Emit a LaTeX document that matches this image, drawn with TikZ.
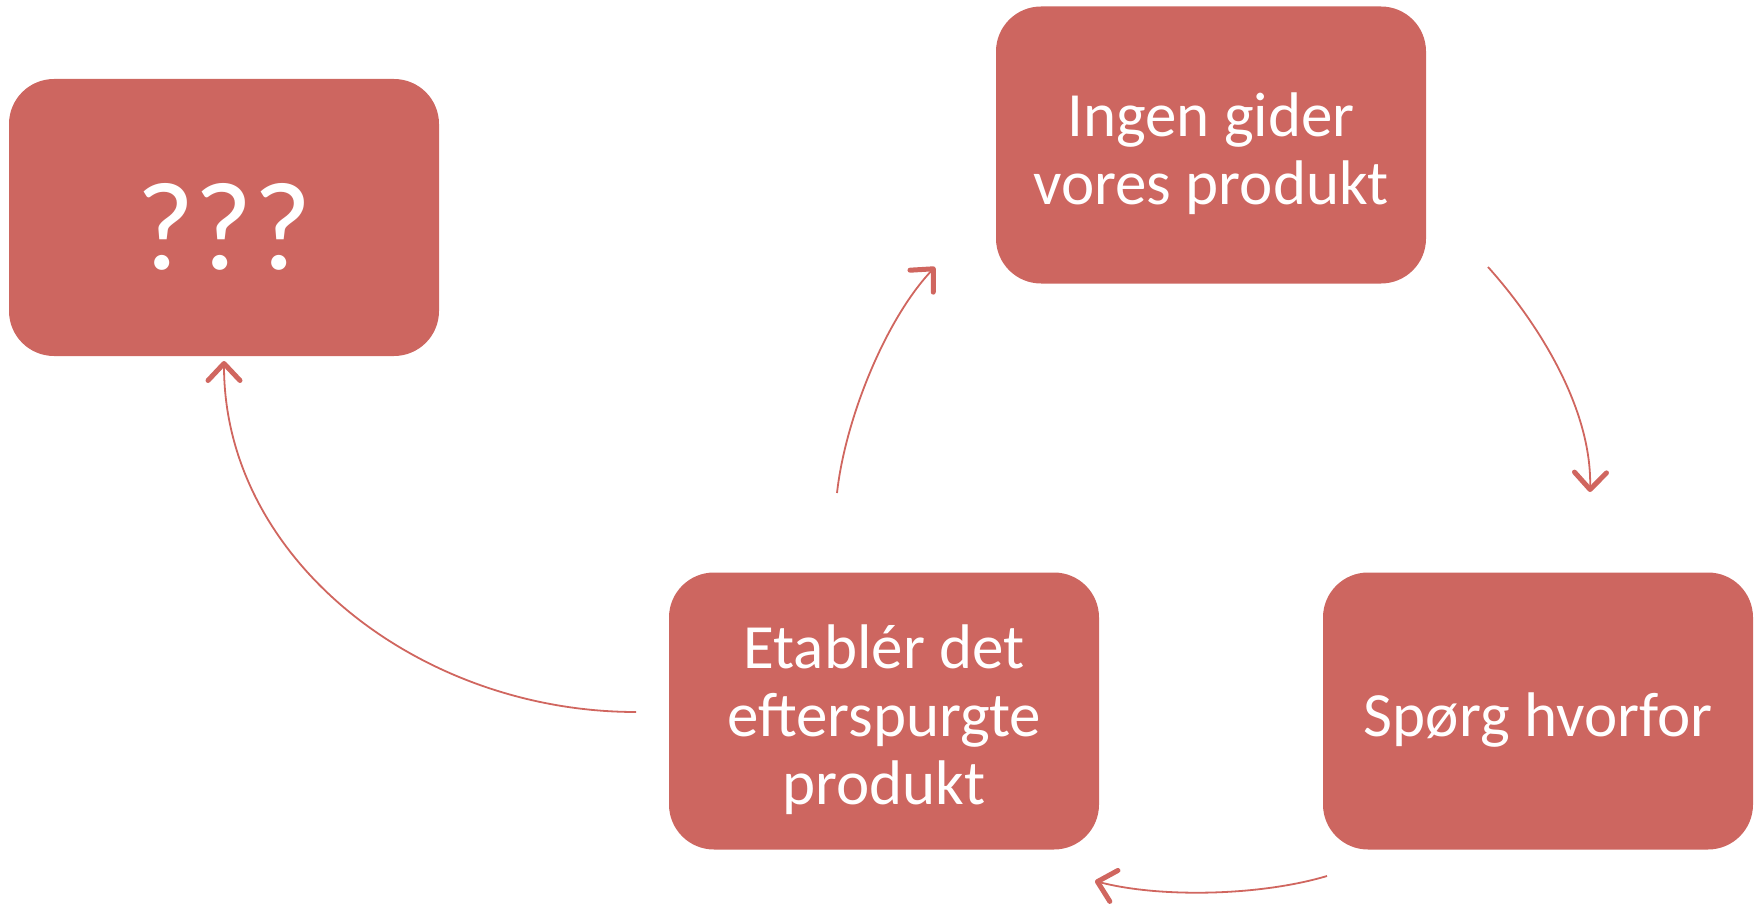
\documentclass[tikz,border=0pt]{standalone}
\usepackage{fontspec}
\setmainfont{Carlito}
\usetikzlibrary{arrows.meta}
\definecolor{boxred}{HTML}{CD6660}
\definecolor{arrred}{HTML}{D0665F}
\tikzset{
  box/.style={fill=boxred, draw=none, rounded corners=45pt, minimum width=430pt, minimum height=277pt,
    inner sep=0pt},
  boxtext/.style={text=white, align=center, inner sep=0pt, yshift=-9pt,
    font=\fontsize{63}{68}\selectfont},
  bigtext/.style={boxtext, font=\fontsize{126}{130}\selectfont},
  conn/.style={draw=arrred, line width=1.8pt,
    -{Straight Barb[length=17pt,width=32pt,line width=5pt,round]}}
}
\begin{document}
\begin{tikzpicture}[x=1pt,y=-1pt]
\useasboundingbox (0,0) rectangle (1762,904);
\node[box, label={[bigtext]center:???}] (q) at (224,217.5) {};
\node[box, label={[boxtext]center:{Ingen gider\\vores produkt}}] (ingen) at (1211,145) {};
\node[box, label={[boxtext]center:{Spørg hvorfor}}] (sporg) at (1538,711) {};
\node[box, label={[boxtext]center:{Etablér det\\efterspurgte\\produkt}}] (etab) at (884,711) {};
\coordinate (a1s) at (837,493);
\coordinate (a1e) at (935,267);
\coordinate (a2s) at (1488,267);
\coordinate (a2e) at (1590,492);
\coordinate (a3s) at (1327,876);
\coordinate (a3e) at (1095,881);
\coordinate (a4s) at (636,712);
\coordinate (a4e) at (224,361);
\draw[conn] (a1s) .. controls (845,420) and (885,320) .. (a1e);
\draw[conn] (a2s) .. controls (1540,325) and (1592,410) .. (a2e);
\draw[conn] (a3s) .. controls (1260,896) and (1160,898) .. (a3e);
\draw[conn] (a4s) .. controls (420,712) and (224,560) .. (a4e);
\end{tikzpicture}
\end{document}
